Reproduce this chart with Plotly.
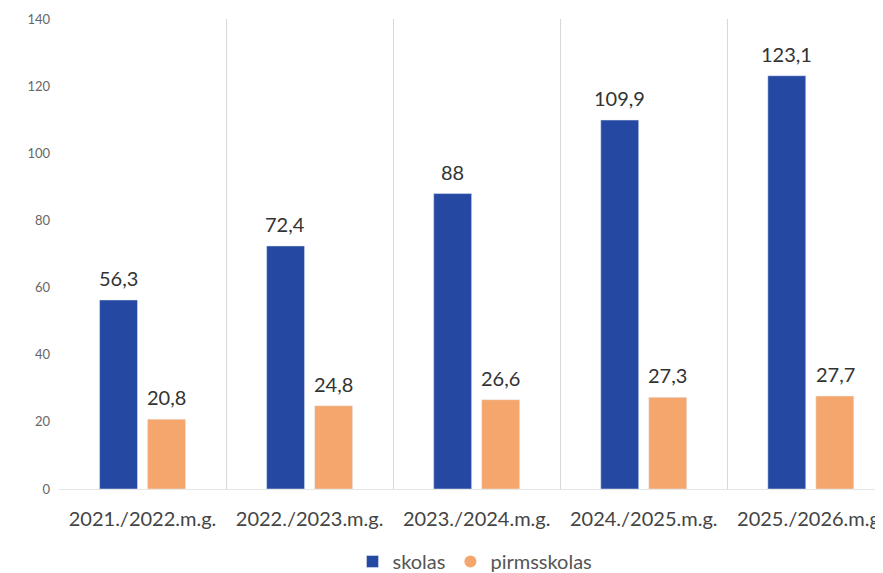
import plotly.graph_objects as go

categories = ["2021./2022.m.g.", "2022./2023.m.g.", "2023./2024.m.g.", "2024./2025.m.g.", "2025./2026.m.g."]
skolas = [56.3, 72.4, 88, 109.9, 123.1]
pirmsskolas = [20.8, 24.8, 26.6, 27.3, 27.7]
y_ticks = [0, 20, 40, 60, 80, 100, 120, 140]

BLUE = "#2549A3"
ORANGE = "#F5A66C"
FONT = "Lato, 'Open Sans', sans-serif"


def fmt(v):
    return ("%g" % v).replace(".", ",")


fig = go.Figure()
fig.add_trace(go.Bar(
    x=categories, y=skolas, name="skolas", marker_color=BLUE, showlegend=True,
))
fig.add_trace(go.Bar(
    x=categories, y=pirmsskolas, name="pirmsskolas", marker_color=ORANGE, showlegend=False,
))
fig.add_trace(go.Scatter(
    x=[None], y=[None], mode="markers", name="pirmsskolas",
    marker=dict(symbol="circle", size=12, color=ORANGE), showlegend=True,
))

annotations = []
for series, xs in ((skolas, -0.145), (pirmsskolas, 0.145)):
    for i, v in enumerate(series):
        annotations.append(dict(
            x=i + xs, y=v, xref="x", yref="y", text=fmt(v), showarrow=False,
            yanchor="bottom", yshift=8, font=dict(size=20, color="#333333"),
        ))

fig.update_layout(
    width=883, height=573,
    margin=dict(l=51, r=0, t=11, b=91),
    paper_bgcolor="white", plot_bgcolor="white",
    barmode="group", bargap=0.425, bargroupgap=0.21,
    font=dict(family=FONT, color="#444444"),
    legend=dict(orientation="h", x=0.5, xanchor="center", y=-0.155, yanchor="middle",
                font=dict(size=20, color="#555555"), traceorder="normal"),
    annotations=annotations,
)
fig.update_xaxes(
    type="category", range=[-0.5, 4.48], tickson="boundaries",
    showgrid=True, gridcolor="#D9D9D9", gridwidth=1, automargin=False,
    ticks="", showline=True, linecolor="#E6E6E6", ticklabelstandoff=12,
    tickfont=dict(size=20, color="#444444"),
)
fig.update_yaxes(
    range=[0, 140], tickvals=y_ticks, showgrid=False, zeroline=False, automargin=False,
    showline=False, tickfont=dict(size=13, color="#666666"), ticklabelstandoff=8,
)

fig.write_html("out.html")
